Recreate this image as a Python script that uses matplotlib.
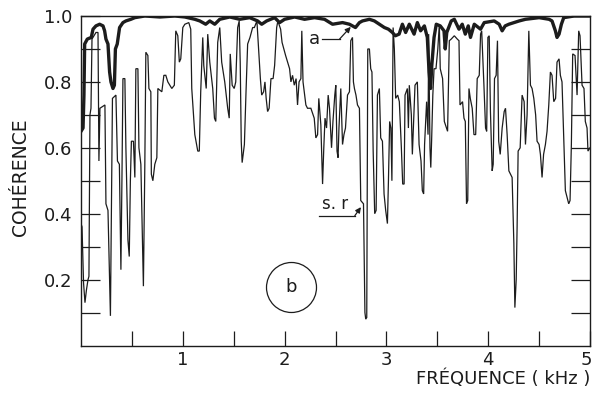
import matplotlib
matplotlib.use("Agg")
import matplotlib.pyplot as plt
from matplotlib.ticker import FixedLocator
from matplotlib.transforms import ScaledTranslation

# ---- data (frequency in kHz, coherence) ----
sr_freq = [0.000, 0.010, 0.025, 0.039, 0.054, 0.069, 0.078, 0.088, 0.098, 0.108,
           0.147, 0.167, 0.176, 0.186, 0.235, 0.245, 0.265, 0.289, 0.309, 0.343,
           0.358, 0.377, 0.392, 0.402, 0.412, 0.431, 0.441, 0.461, 0.474, 0.485,
           0.495, 0.515, 0.529, 0.539, 0.559, 0.569, 0.588, 0.613, 0.627, 0.637,
           0.657, 0.667, 0.686, 0.691, 0.706, 0.725, 0.745, 0.755, 0.794, 0.814,
           0.833, 0.853, 0.873, 0.892, 0.917, 0.931, 0.951, 0.966, 0.980, 1.000,
           1.020, 1.059, 1.078, 1.088, 1.118, 1.147, 1.162, 1.176, 1.196, 1.206,
           1.230, 1.245, 1.265, 1.294, 1.311, 1.324, 1.343, 1.363, 1.382, 1.412,
           1.441, 1.456, 1.466, 1.485, 1.505, 1.520, 1.539, 1.554, 1.564, 1.574,
           1.583, 1.605, 1.621, 1.637, 1.660, 1.686, 1.703, 1.728, 1.745, 1.762,
           1.775, 1.794, 1.807, 1.819, 1.833, 1.848, 1.866, 1.887, 1.902, 1.922,
           1.934, 1.961, 1.975, 1.997, 2.010, 2.029, 2.049, 2.062, 2.078, 2.095,
           2.113, 2.127, 2.142, 2.160, 2.169, 2.181, 2.209, 2.225, 2.258, 2.291,
           2.307, 2.324, 2.336, 2.356, 2.373, 2.385, 2.397, 2.412, 2.428, 2.441,
           2.461, 2.475, 2.493, 2.503, 2.515, 2.525, 2.534, 2.552, 2.569, 2.583,
           2.598, 2.618, 2.637, 2.650, 2.667, 2.676, 2.686, 2.701, 2.716, 2.735,
           2.748, 2.775, 2.789, 2.797, 2.807, 2.817, 2.833, 2.846, 2.858, 2.870,
           2.885, 2.899, 2.912, 2.931, 2.944, 2.961, 2.977, 2.993, 3.010, 3.020,
           3.032, 3.044, 3.054, 3.066, 3.078, 3.091, 3.111, 3.127, 3.147, 3.160,
           3.174, 3.183, 3.206, 3.216, 3.225, 3.245, 3.255, 3.281, 3.304, 3.321,
           3.340, 3.353, 3.366, 3.375, 3.395, 3.409, 3.415, 3.428, 3.436, 3.444,
           3.456, 3.468, 3.487, 3.505, 3.520, 3.529, 3.552, 3.569, 3.601, 3.618,
           3.637, 3.667, 3.696, 3.713, 3.723, 3.748, 3.762, 3.775, 3.787, 3.799,
           3.811, 3.824, 3.843, 3.860, 3.877, 3.892, 3.912, 3.925, 3.936, 3.958,
           3.974, 3.985, 3.997, 4.010, 4.022, 4.039, 4.049, 4.062, 4.078, 4.091,
           4.103, 4.118, 4.137, 4.157, 4.170, 4.186, 4.203, 4.235, 4.252, 4.262,
           4.275, 4.284, 4.294, 4.314, 4.333, 4.353, 4.366, 4.382, 4.399, 4.415,
           4.431, 4.448, 4.466, 4.480, 4.500, 4.513, 4.529, 4.544, 4.562, 4.578,
           4.595, 4.611, 4.627, 4.644, 4.662, 4.676, 4.696, 4.709, 4.725, 4.742,
           4.758, 4.775, 4.791, 4.804, 4.817, 4.830, 4.853, 4.873, 4.889, 4.902,
           4.922, 4.941, 4.954, 4.971, 4.980, 5.000]
sr_coh = [0.37, 0.36, 0.19, 0.13, 0.17, 0.20, 0.21, 0.70, 0.72, 0.93,
          0.95, 0.95, 0.56, 0.72, 0.73, 0.43, 0.41, 0.09, 0.75, 0.76,
          0.56, 0.55, 0.23, 0.50, 0.81, 0.81, 0.60, 0.32, 0.27, 0.50,
          0.62, 0.62, 0.51, 0.84, 0.84, 0.60, 0.55, 0.18, 0.55, 0.89,
          0.88, 0.78, 0.77, 0.52, 0.50, 0.55, 0.57, 0.78, 0.77, 0.82,
          0.82, 0.80, 0.79, 0.78, 0.79, 0.955, 0.94, 0.86, 0.87, 0.965,
          0.975, 0.98, 0.96, 0.78, 0.64, 0.59, 0.59, 0.77, 0.935, 0.85,
          0.78, 0.945, 0.86, 0.78, 0.69, 0.68, 0.92, 0.965, 0.86, 0.80,
          0.72, 0.69, 0.885, 0.79, 0.78, 0.80, 0.965, 0.985, 0.86, 0.62,
          0.555, 0.61, 0.77, 0.915, 0.935, 0.965, 0.965, 0.985, 0.90, 0.81,
          0.76, 0.77, 0.80, 0.75, 0.71, 0.72, 0.81, 0.81, 0.85, 0.965,
          0.985, 0.96, 0.92, 0.895, 0.88, 0.86, 0.84, 0.80, 0.82, 0.79,
          0.81, 0.73, 0.80, 0.81, 0.955, 0.80, 0.73, 0.72, 0.72, 0.69,
          0.63, 0.64, 0.75, 0.67, 0.49, 0.60, 0.69, 0.66, 0.76, 0.72,
          0.60, 0.68, 0.76, 0.79, 0.59, 0.57, 0.66, 0.78, 0.61, 0.64,
          0.66, 0.76, 0.77, 0.925, 0.935, 0.80, 0.78, 0.76, 0.73, 0.72,
          0.44, 0.43, 0.10, 0.08, 0.085, 0.90, 0.90, 0.84, 0.83, 0.59,
          0.40, 0.41, 0.76, 0.78, 0.63, 0.62, 0.46, 0.41, 0.37, 0.50,
          0.68, 0.66, 0.50, 0.965, 0.90, 0.75, 0.76, 0.74, 0.60, 0.49,
          0.49, 0.76, 0.78, 0.66, 0.79, 0.70, 0.58, 0.79, 0.80, 0.61,
          0.56, 0.47, 0.46, 0.61, 0.74, 0.64, 0.945, 0.60, 0.54, 0.62,
          0.76, 0.84, 0.84, 0.90, 0.975, 0.84, 0.81, 0.68, 0.65, 0.925,
          0.93, 0.94, 0.93, 0.925, 0.73, 0.74, 0.69, 0.68, 0.43, 0.44,
          0.78, 0.75, 0.72, 0.64, 0.64, 0.81, 0.82, 0.945, 0.955, 0.79,
          0.66, 0.65, 0.935, 0.94, 0.71, 0.53, 0.55, 0.81, 0.82, 0.925,
          0.62, 0.58, 0.66, 0.71, 0.72, 0.64, 0.53, 0.51, 0.31, 0.115,
          0.20, 0.36, 0.59, 0.60, 0.76, 0.74, 0.61, 0.70, 0.955, 0.79,
          0.78, 0.75, 0.70, 0.62, 0.61, 0.58, 0.51, 0.58, 0.61, 0.65,
          0.73, 0.83, 0.82, 0.74, 0.75, 0.86, 0.87, 0.82, 0.80, 0.63,
          0.47, 0.45, 0.43, 0.44, 0.61, 0.885, 0.88, 0.76, 0.955, 0.94,
          0.79, 0.78, 0.68, 0.66, 0.59, 0.60]

a_freq = [0.000, 0.020, 0.029, 0.036, 0.062, 0.101, 0.118, 0.147, 0.183, 0.216,
          0.232, 0.245, 0.265, 0.281, 0.294, 0.314, 0.328, 0.338, 0.356, 0.379,
          0.412, 0.441, 0.490, 0.529, 0.627, 0.775, 0.922, 1.020, 1.118, 1.167,
          1.225, 1.265, 1.314, 1.363, 1.461, 1.559, 1.657, 1.735, 1.775, 1.824,
          1.902, 1.951, 2.000, 2.098, 2.196, 2.294, 2.392, 2.471, 2.569, 2.637,
          2.696, 2.735, 2.765, 2.833, 2.882, 2.931, 2.980, 3.020, 3.059, 3.088,
          3.125, 3.157, 3.189, 3.225, 3.272, 3.304, 3.336, 3.373, 3.402, 3.419,
          3.434, 3.446, 3.468, 3.490, 3.529, 3.566, 3.578, 3.593, 3.637, 3.667,
          3.713, 3.745, 3.775, 3.804, 3.826, 3.863, 3.925, 3.961, 4.059, 4.108,
          4.137, 4.167, 4.203, 4.304, 4.366, 4.500, 4.598, 4.627, 4.660, 4.676,
          4.696, 4.719, 4.742, 4.843, 5.000]
a_coh = [0.65, 0.66, 0.76, 0.915, 0.93, 0.935, 0.96, 0.97, 0.975, 0.97,
         0.955, 0.93, 0.915, 0.83, 0.80, 0.78, 0.79, 0.90, 0.915, 0.965,
         0.98, 0.985, 0.99, 0.995, 1.0, 0.997, 1.0, 0.997, 0.99, 0.985,
         0.975, 0.985, 0.975, 0.99, 0.997, 0.99, 0.995, 0.985, 0.975, 0.985,
         0.995, 0.98, 0.99, 0.997, 0.99, 0.995, 0.99, 0.975, 0.98, 0.975,
         0.965, 0.98, 0.985, 0.99, 0.985, 0.975, 0.965, 0.96, 0.95, 0.94,
         0.945, 0.975, 0.95, 0.975, 0.945, 0.98, 0.955, 0.97, 0.935, 0.83,
         0.78, 0.85, 0.935, 0.975, 0.97, 0.955, 0.90, 0.95, 0.985, 0.99,
         0.96, 0.975, 0.945, 0.97, 0.935, 0.975, 0.96, 0.98, 0.985, 0.975,
         0.955, 0.97, 0.975, 0.985, 0.99, 0.995, 0.99, 0.985, 0.955, 0.935,
         0.945, 0.975, 0.995, 1.0, 1.0]

x_major = [1, 2, 3, 4, 5]
x_minor = [0.5, 1.5, 2.5, 3.5, 4.5]
y_major = [0.2, 0.4, 0.6, 0.8, 1.0]
y_minor = [0.1, 0.3, 0.5, 0.7, 0.9]

ink = "#1c1c1c"
plt.rcParams["font.family"] = ["DejaVu Sans"]

fig = plt.figure(figsize=(5.95, 3.95), dpi=100)
ax = fig.add_axes([81 / 595, 1 - 345.5 / 395, 509 / 595, 329.5 / 395])

ax.plot(sr_freq, sr_coh, color=ink, lw=0.9, solid_joinstyle="miter")
ax.plot(a_freq, a_coh, color=ink, lw=2.4, solid_joinstyle="round")

ax.set_xlim(0, 5)
ax.set_ylim(0, 1.0)

ax.xaxis.set_major_locator(FixedLocator(x_major))
ax.xaxis.set_minor_locator(FixedLocator(x_minor))
ax.yaxis.set_major_locator(FixedLocator(y_major))
ax.yaxis.set_minor_locator(FixedLocator(y_minor))
ax.set_xticklabels([str(v) for v in x_major])
ax.set_yticklabels([f"{v:.1f}" for v in y_major])

ax.tick_params(axis="x", which="both", direction="in", length=11, width=0.9,
               color=ink, labelsize=13, labelcolor=ink, pad=4)
ax.tick_params(axis="y", which="both", direction="in", length=13.5, width=0.9,
               color=ink, labelsize=13, labelcolor=ink, pad=6, right=True)
for s in ax.spines.values():
    s.set_linewidth(1.0)
    s.set_color(ink)

# keep the last x tick label inside the picture
last = ax.get_xticklabels()[-1]
last.set_transform(last.get_transform() + ScaledTranslation(-4 / 100, 0, fig.dpi_scale_trans))

fig.text(21 / 595, 1 - 177 / 395, "COHÉRENCE", rotation=90, ha="center",
         va="center", fontsize=13.5, color=ink)
fig.text(590 / 595, 1 - 379 / 395, "FRÉQUENCE ( kHz )", ha="right",
         va="center", fontsize=13, color=ink)

# label a
ax.text(2.29, 0.93, "a", ha="center", va="center", fontsize=13, color=ink)
ax.plot([2.37, 2.54], [0.93, 0.93], color=ink, lw=0.9)
ax.annotate("", xy=(2.65, 0.967), xytext=(2.54, 0.93),
            arrowprops=dict(arrowstyle="-|>", color=ink, lw=0.9,
                            mutation_scale=8, shrinkA=0, shrinkB=0))

# label s.r
ax.text(2.50, 0.43, "s. r", ha="center", va="center", fontsize=12, color=ink)
ax.plot([2.34, 2.69], [0.394, 0.394], color=ink, lw=0.9)
ax.annotate("", xy=(2.75, 0.42), xytext=(2.69, 0.394),
            arrowprops=dict(arrowstyle="-|>", color=ink, lw=0.9,
                            mutation_scale=8, shrinkA=0, shrinkB=0))

# circled b
ax.plot([2.064], [0.177], marker="o", markersize=36, markerfacecolor="none",
        markeredgecolor=ink, markeredgewidth=0.9)
ax.text(2.064, 0.177, "b", ha="center", va="center", fontsize=13, color=ink)

fig.savefig("out.png", dpi=100, facecolor="white")
